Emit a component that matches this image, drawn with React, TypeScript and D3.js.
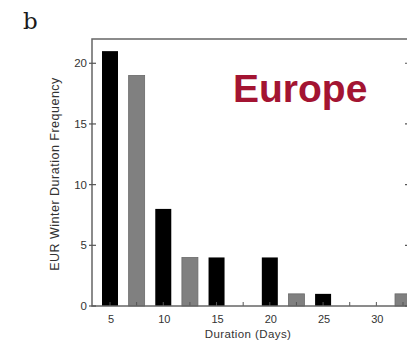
import React from "react";
import * as d3 from "d3";

const blackDays = [5, 10, 15, 20, 25, 30];
const blackFreq = [21, 8, 4, 4, 1, 0];
const grayDays = [7.5, 12.5, 17.5, 22.5, 27.5, 32.5];
const grayFreq = [19, 4, 0, 1, 0, 1];
const xTickLabels = [5, 10, 15, 20, 25, 30];
const yTickLabels = [0, 5, 10, 15, 20];

export default function App() {
  const W = 407, H = 343;
  const left = 92, right = 409, top = 39, bottom = 306;
  const x = d3.scaleLinear().domain([5, 32.5]).range([110, 403]);
  const y = d3.scaleLinear().domain([0, 22]).range([bottom, top]);
  const bw = 16;
  const allDays = [...blackDays, ...grayDays].sort((a, b) => a - b);
  const font = "'Liberation Sans', Arial, sans-serif";
  return (
    <svg width={W} height={H} style={{ position: "absolute", left: 0, top: 0, background: "#fff" }}>
      <text x={23} y={29} fontFamily="'DejaVu Serif', 'Liberation Serif', serif" fontSize={23} fill="#1a1a1a">b</text>
      {blackDays.map((d, i) => (
        <rect key={"b" + i} x={x(d) - bw / 2} y={y(blackFreq[i])} width={bw} height={bottom - y(blackFreq[i])} fill="#000" />
      ))}
      {grayDays.map((d, i) => (
        <rect key={"g" + i} x={x(d) - bw / 2} y={y(grayFreq[i])} width={bw} height={bottom - y(grayFreq[i])} fill="#808080" stroke="#6a6a6a" strokeWidth={0.8} />
      ))}
      {allDays.map((d, i) => (
        <line key={"mt" + i} x1={x(d)} x2={x(d)} y1={bottom} y2={bottom - 4} stroke="#555" strokeWidth={1} />
      ))}
      <rect x={left} y={top} width={right - left} height={bottom - top} fill="none" stroke="#666" strokeWidth={1.5} />
      {yTickLabels.map((v) => (
        <g key={"y" + v}>
          <line x1={left - 3} x2={left + 4} y1={y(v)} y2={y(v)} stroke="#555" strokeWidth={1.2} />
          <line x1={right - 4} x2={right} y1={y(v)} y2={y(v)} stroke="#555" strokeWidth={1.2} />
          <text x={left - 5} y={y(v) + 4} textAnchor="end" fontFamily={font} fontSize={11.5} fill="#333">{v}</text>
        </g>
      ))}
      {xTickLabels.map((v) => (
        <text key={"x" + v} x={x(v) + 1} y={323} textAnchor="middle" fontFamily={font} fontSize={11} fill="#333">{v}</text>
      ))}
      <text x={248} y={337.5} textAnchor="middle" fontFamily={font} fontSize={11.5} letterSpacing={0.4} fill="#333">Duration (Days)</text>
      <text transform="translate(59,174) rotate(-90)" textAnchor="middle" fontFamily={font} fontSize={12.5} letterSpacing={0.5} fill="#333">EUR Winter Duration Frequency</text>
      <text x={233} y={102} fontFamily={font} fontWeight="bold" fontSize={39} fill="#a31432">Europe</text>
    </svg>
  );
}
